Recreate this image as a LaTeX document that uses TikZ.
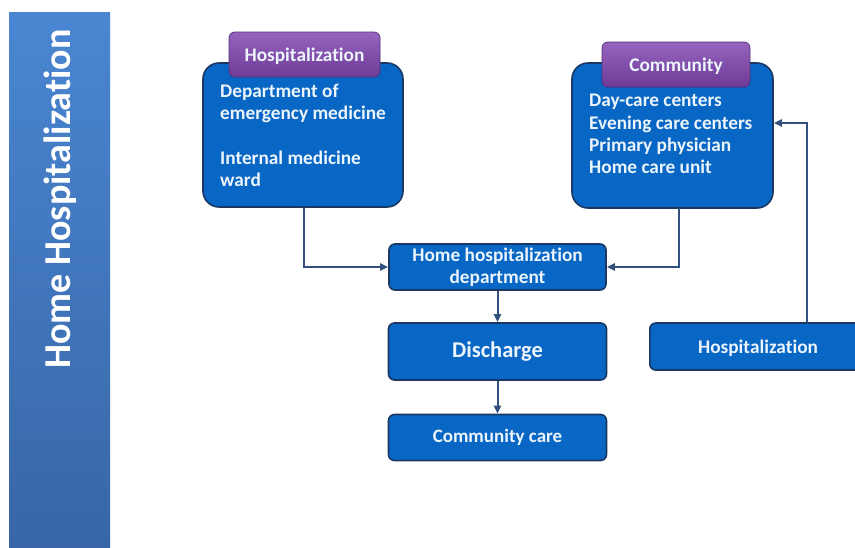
\documentclass[tikz,border=0pt]{standalone}
\usepackage{fontspec}
\setmainfont[Ligatures=NoCommon]{Carlito}
\usetikzlibrary{arrows.meta,positioning}
\definecolor{boxblue}{RGB}{8,102,196}
\definecolor{boxedge}{RGB}{26,56,100}
\definecolor{linecol}{RGB}{50,80,125}
\definecolor{bartop}{RGB}{74,134,210}
\definecolor{barbot}{RGB}{56,102,166}
\definecolor{purptop}{RGB}{150,100,190}
\definecolor{purpbot}{RGB}{110,60,150}
\definecolor{txtwhite}{RGB}{236,244,252}
\tikzset{
  bigbox/.style={draw=boxedge, line width=1.6pt, fill=boxblue, rounded corners=16pt},
  smallbox/.style={draw=boxedge, line width=1.6pt, fill=boxblue, rounded corners=6pt,
    text=txtwhite, font=\bfseries, align=center, inner sep=0pt},
  tab/.style={draw=purpbot!80!black, line width=0.8pt, top color=purptop, bottom color=purpbot,
    rounded corners=6pt, text=txtwhite, font=\fontsize{19.3}{22}\selectfont\bfseries, inner sep=0pt,
    text depth=1pt},
  bodytext/.style={text=txtwhite, font=\fontsize{19.3}{22.3}\selectfont\bfseries, align=left, anchor=north west, inner sep=0pt},
  conn/.style={draw=linecol, line width=2pt, -{Triangle[length=8pt,width=7pt]}},
}
\begin{document}
\begin{tikzpicture}[x=1pt,y=-1pt]
\useasboundingbox (0,0) rectangle (855,547);
\fill[white] (0,0) rectangle (855,547);
% left bar
\node[draw=none, top color=bartop, bottom color=barbot, minimum width=101pt, minimum height=535pt, inner sep=0pt] (bar) at (59.5,279.5) {};
\node[rotate=90, text=white, font=\fontsize{38}{42}\selectfont\bfseries] (title) at (60,199) {Home Hospitalization};
% hospitalization box
\node[bigbox, minimum width=200pt, minimum height=144pt, inner sep=0pt] (hosp) at (303,135) {};
\node[tab, minimum width=151pt, minimum height=45pt] (hosptab) at (304.5,54.5) {};
\node[text=txtwhite, font=\fontsize{19.3}{22}\selectfont\bfseries, inner sep=0pt] (hosptabtext) at (304.5,56) {Hospitalization};
\node[bodytext] (hosptext) at (220,83.5) {Department of\\emergency medicine\\[22.3pt]Internal medicine\\ward};
% community box
\node[bigbox, minimum width=201pt, minimum height=145pt, inner sep=0pt] (comm) at (672.5,135.5) {};
\node[tab, minimum width=148pt, minimum height=45pt] (commtab) at (676,64.5) {};
\node[text=txtwhite, font=\fontsize{19.3}{22}\selectfont\bfseries, inner sep=0pt] (commtabtext) at (676,66) {Community};
\node[bodytext] (commtext) at (589,94) {Day-care centers\\Evening care centers\\Primary physician\\Home care unit};
% middle chain
\node[smallbox, minimum width=217pt, minimum height=46pt, font=\fontsize{19.3}{22.5}\selectfont\bfseries] (hhd) at (497.5,267) {Home hospitalization\\department};
\node[smallbox, minimum width=218pt, minimum height=57pt, font=\fontsize{22.5}{26}\selectfont\bfseries] (dis) at (497.5,351.5) {Discharge};
\node[smallbox, minimum width=218pt, minimum height=46pt, font=\fontsize{19}{22}\selectfont\bfseries] (cc) at (497.5,437.5) {Community care};
% right hospitalization
\node[smallbox, minimum width=230pt, minimum height=47pt, anchor=west] (rh) at (649,346.5) {};
\node[text=txtwhite, font=\fontsize{19.3}{22}\selectfont\bfseries, inner sep=0pt] (rhtext) at (758,348) {Hospitalization};
% connectors
\coordinate (hb) at (304,207);
\coordinate (cb) at (679,208);
\coordinate (rt) at (807,323);
\draw[conn] (hb) |- (hhd.west);
\draw[conn] (cb) |- (hhd.east);
\draw[conn] (hhd.south) -- (dis.north);
\draw[conn] (dis.south) -- (cc.north);
\draw[conn] (rt) |- ([yshift=12.5pt]comm.east);
\end{tikzpicture}
\end{document}
